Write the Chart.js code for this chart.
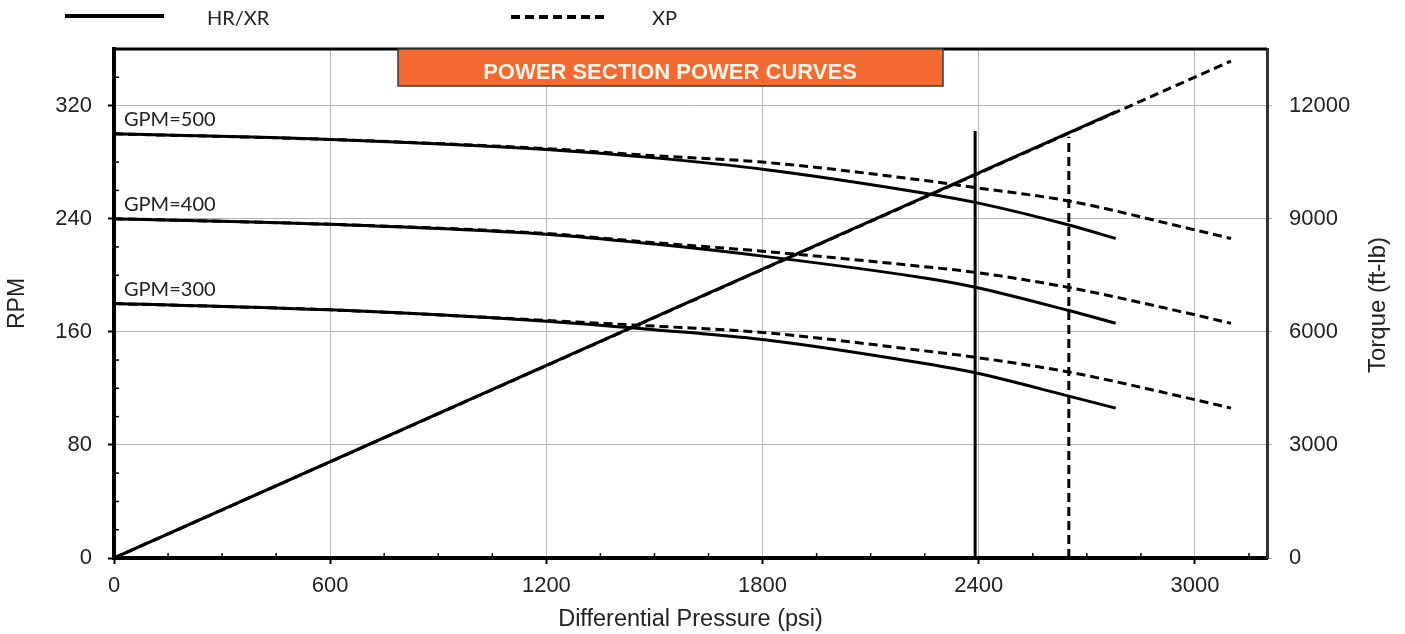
<!DOCTYPE html>
<html>
<head>
<meta charset="utf-8">
<title>Power Section Power Curves</title>
<script src="https://cdn.jsdelivr.net/npm/chart.js@4.4.1/dist/chart.umd.min.js"></script>
<style>
  html, body { margin: 0; padding: 0; background: #fff; }
  #wrap { position: relative; width: 1405px; height: 634px; }
</style>
</head>
<body>
<div id="wrap"><canvas id="powerChart"></canvas></div>
<script>
// pressure points (psi) for each motor family
const psiHR = [0, 600, 1200, 1500, 1800, 2250, 2390, 2650, 2780];
const psiXP = [0, 600, 1200, 1500, 1800, 2250, 2390, 2650, 3000, 3100];

// RPM curves, HR/XR (solid)
const rpmHR500 = [300, 296, 289, 283, 275, 258, 251.5, 235.5, 226];
const rpmHR400 = [240, 236, 229, 222, 213.5, 198, 191.5, 175, 166];
const rpmHR300 = [180, 175.5, 167.5, 161.5, 154.5, 137.5, 131, 114.5, 106];

// RPM curves, XP (dashed)
const rpmXP500 = [300, 296, 289.5, 284.5, 280, 267, 262, 252.5, 232, 226];
const rpmXP400 = [240, 236, 229.5, 223, 217, 206, 202, 191.3, 172, 166];
const rpmXP300 = [180, 175.5, 168, 164, 159.5, 146.5, 142, 131.5, 112, 106];

// torque lines (ft-lb)
const psiTorqueHR = [0, 2780];
const torqueHR = [0, 11830];
const psiTorqueXP = [0, 3100];
const torqueXP = [0, 13180];

// max pressure markers
const psiLimitHR = [2390, 2390];
const rpmLimitHR = [0, 302];
const psiLimitXP = [2650, 2650];
const rpmLimitXP = [0, 298];

const gpmLabels = ['GPM=500', 'GPM=400', 'GPM=300'];
const gpmStart = [rpmHR500[0], rpmHR400[0], rpmHR300[0]];

const psiTicks = [0, 600, 1200, 1800, 2400, 3000];
const rpmTicks = [0, 80, 160, 240, 320];
const torqueTicks = [0, 3000, 6000, 9000, 12000];

const fontFamily = '"Liberation Sans", Arial, sans-serif';
const labelFamily = 'Lato, "Open Sans", sans-serif';
const dash = [9, 5];
const plain = v => String(v);

const toPoints = (xs, ys) => xs.map((x, i) => ({ x, y: ys[i] }));

const lineSet = (data, dashed, axis = 'y', smooth = true) => ({
  data,
  yAxisID: axis,
  borderColor: '#000',
  borderWidth: 3,
  borderDash: dashed ? dash : [],
  pointRadius: 0,
  fill: false,
  cubicInterpolationMode: smooth ? 'monotone' : 'default',
  tension: 0
});

const decor = {
  id: 'decor',
  afterDraw(chart) {
    const { ctx, chartArea: a, scales } = chart;
    const x = scales.x, y = scales.y;
    ctx.save();

    // top border and minor ticks
    ctx.strokeStyle = '#000';
    ctx.lineWidth = 3;
    ctx.beginPath();
    ctx.moveTo(a.left - 2, a.top);
    ctx.lineTo(a.right, a.top);
    ctx.stroke();

    ctx.lineWidth = 1.5;
    for (let v = 20; v < 360; v += 20) {
      if (v % 80 === 0) continue;
      const py = y.getPixelForValue(v);
      ctx.beginPath();
      ctx.moveTo(a.left, py);
      ctx.lineTo(a.left + 5, py);
      ctx.stroke();
    }
    for (let v = 150; v < 3200; v += 150) {
      if (v % 600 === 0) continue;
      const px = x.getPixelForValue(v);
      ctx.beginPath();
      ctx.moveTo(px, a.bottom);
      ctx.lineTo(px, a.bottom - 5);
      ctx.stroke();
    }

    // GPM labels
    ctx.fillStyle = '#222';
    ctx.font = '20px ' + labelFamily;
    ctx.textAlign = 'left';
    ctx.textBaseline = 'alphabetic';
    gpmLabels.forEach((t, i) => {
      ctx.fillText(t, x.getPixelForValue(0) + 10, y.getPixelForValue(gpmStart[i]) - 8);
    });

    // legend
    ctx.lineWidth = 4;
    ctx.beginPath();
    ctx.moveTo(65, 16);
    ctx.lineTo(164, 16);
    ctx.stroke();
    ctx.setLineDash(dash);
    ctx.beginPath();
    ctx.moveTo(511, 17);
    ctx.lineTo(605, 17);
    ctx.stroke();
    ctx.setLineDash([]);
    ctx.textBaseline = 'middle';
    ctx.fillText('HR/XR', 207, 19);
    ctx.fillText('XP', 652, 19);

    // title box
    ctx.fillStyle = '#F26A32';
    ctx.fillRect(398, a.top, 545, 37);
    ctx.strokeStyle = '#3a3a3a';
    ctx.lineWidth = 1.5;
    ctx.strokeRect(398, a.top, 545, 37);
    ctx.fillStyle = '#FFF4E6';
    ctx.font = 'bold 22px ' + fontFamily;
    ctx.textAlign = 'center';
    ctx.fillText('POWER SECTION POWER CURVES', 670, a.top + 24);

    // right axis title, reads bottom to top
    ctx.fillStyle = '#222';
    ctx.font = '24px ' + fontFamily;
    ctx.translate(1378, 305);
    ctx.rotate(-Math.PI / 2);
    ctx.fillText('Torque (ft-lb)', 0, 0);
    ctx.restore();
  }
};

new Chart(document.getElementById('powerChart'), {
  type: 'line',
  data: {
    datasets: [
      lineSet(toPoints(psiHR, rpmHR500), false),
      lineSet(toPoints(psiHR, rpmHR400), false),
      lineSet(toPoints(psiHR, rpmHR300), false),
      lineSet(toPoints(psiTorqueHR, torqueHR), false, 'y2', false),
      lineSet(toPoints(psiLimitHR, rpmLimitHR), false, 'y', false),
      lineSet(toPoints(psiXP, rpmXP500), true),
      lineSet(toPoints(psiXP, rpmXP400), true),
      lineSet(toPoints(psiXP, rpmXP300), true),
      lineSet(toPoints(psiTorqueXP, torqueXP), true, 'y2', false),
      lineSet(toPoints(psiLimitXP, rpmLimitXP), true, 'y', false)
    ]
  },
  options: {
    responsive: true,
    maintainAspectRatio: false,
    animation: false,
    layout: { padding: { top: 49, right: 0, bottom: 0, left: 0 } },
    plugins: { legend: { display: false }, tooltip: { enabled: false } },
    scales: {
      x: {
        type: 'linear',
        min: 0,
        max: 3200,
        afterBuildTicks: s => { s.ticks = psiTicks.map(v => ({ value: v })); },
        afterFit: s => { s.height = 76; },
        grid: { color: '#b5b5b5', lineWidth: 1, tickColor: '#000', tickLength: 6, tickWidth: 2 },
        border: { color: '#000', width: 4 },
        ticks: { color: '#222', font: { family: fontFamily, size: 22 }, padding: 9, maxRotation: 0, callback: plain },
        title: {
          display: true,
          text: 'Differential Pressure (psi)',
          color: '#222',
          font: { family: fontFamily, size: 23.5 },
          padding: { top: 0, bottom: 0 }
        }
      },
      y: {
        position: 'left',
        min: 0,
        max: 360,
        afterBuildTicks: s => { s.ticks = rpmTicks.map(v => ({ value: v })); },
        afterFit: s => { s.width = 114; },
        grid: { color: '#b5b5b5', lineWidth: 1, tickColor: '#000', tickLength: 6, tickWidth: 2 },
        border: { color: '#000', width: 4 },
        ticks: { color: '#222', font: { family: fontFamily, size: 22 }, padding: 16, callback: plain },
        title: {
          display: true,
          text: 'RPM',
          color: '#222',
          font: { family: fontFamily, size: 23 },
          padding: { top: 4, bottom: 0 }
        }
      },
      y2: {
        position: 'right',
        min: 0,
        max: 13500,
        afterBuildTicks: s => { s.ticks = torqueTicks.map(v => ({ value: v })); },
        afterFit: s => { s.width = 138; },
        grid: { drawOnChartArea: false, tickColor: '#aaa', tickLength: 5 },
        border: { color: '#333', width: 3 },
        ticks: { color: '#222', font: { family: fontFamily, size: 22 }, padding: 17, callback: plain }
      }
    }
  },
  plugins: [decor]
});
</script>
</body>
</html>
